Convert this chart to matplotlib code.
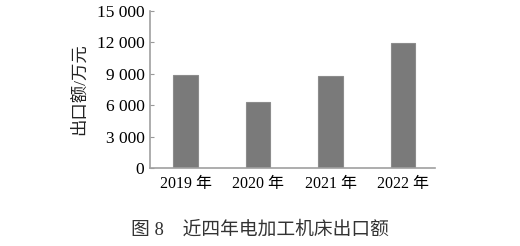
import matplotlib
matplotlib.use("Agg")
import matplotlib.pyplot as plt

# data
years = ["2019 年", "2020 年", "2021 年", "2022 年"]
export_value = [8900, 6330, 8760, 11970]  # 万元
yticks = [0, 3000, 6000, 9000, 12000, 15000]
ytick_labels = ["0", "3 000", "6 000", "9 000", "12 000", "15 000"]

plt.rcParams["font.family"] = ["Liberation Serif", "Noto Sans CJK SC"]

fig = plt.figure(figsize=(5.2, 2.46), dpi=100)
ax = fig.add_axes([0.2885, 0.317, 0.548, 0.638])

x = range(len(years))
ax.bar(x, export_value, width=0.34, color="#7a7a7a", edgecolor="#8c8c8c", linewidth=0.8)

ax.set_xlim(-0.49, 3.44)
ax.set_ylim(0, 15000)
ax.set_xticks(list(x))
ax.set_xticklabels(years, fontsize=11.5)
ax.set_yticks(yticks)
ax.set_yticklabels(ytick_labels, fontsize=12.5)
ax.tick_params(axis="x", length=0, pad=6)
ax.tick_params(axis="y", direction="in", length=3, width=0.8, color="#999999", pad=4)

for s in ["top", "right"]:
    ax.spines[s].set_visible(False)
for s in ["left", "bottom"]:
    ax.spines[s].set_color("#a0a0a0")
    ax.spines[s].set_linewidth(1.2)

ax.set_ylabel("出口额/万元", fontsize=12.5, labelpad=6, color="#222222")

fig.text(0.5, 0.065, "图 8　近四年电加工机床出口额", ha="center", va="center",
         fontsize=13.5, color="#333333")

fig.savefig("out.png", dpi=100)
